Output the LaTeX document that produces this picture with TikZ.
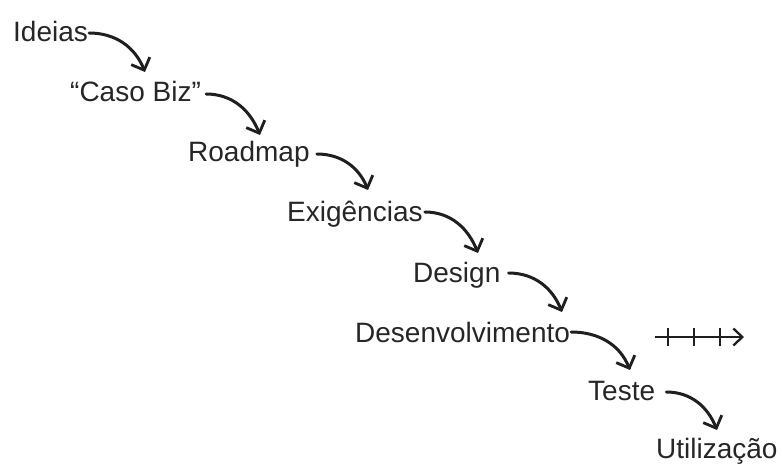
\documentclass[tikz,border=0pt]{standalone}
\usepackage{fontspec}
\setmainfont{Liberation Sans}
\usetikzlibrary{arrows.meta}
\begin{document}
\begin{tikzpicture}[x=1pt,y=1pt,
 lbl/.style={anchor=base west, inner sep=0pt, font=\fontsize{28}{30}\selectfont, text=black!85},
 flow/.style={line width=3pt, draw=black!88, line cap=round,
   -{Straight Barb[length=10pt,width=20pt,line width=2.8pt]}},
 tick/.style={line width=2.3pt, draw=black!88},
]
\useasboundingbox (0,0) rectangle (783,464);
\node[lbl] (n1) at (13,422) {Ideias};
\node[lbl] (n2) at (70,362) {“Caso Biz”};
\node[lbl] (n3) at (188,302) {Roadmap};
\node[lbl] (n4) at (287,243) {Exigências};
\node[lbl] (n5) at (413,182) {Design};
\node[lbl] (n6) at (355,122) {Desenvolvimento};
\node[lbl] (n7) at (588,64) {Teste};
\node[lbl] (n8) at (656,6) {Utilização};

\draw[flow] ([shift={(1,9)}]n1.base east) to[out=0,in=112] ([shift={(75,30)}]n2.base west);
\draw[flow] ([shift={(5,8)}]n2.base east) to[out=0,in=112] ([shift={(72,27)}]n3.base west);
\draw[flow] ([shift={(7,8)}]n3.base east) to[out=0,in=112] ([shift={(81,31)}]n4.base west);
\draw[flow] ([shift={(2,9)}]n4.base east) to[out=0,in=112] ([shift={(65,29)}]n5.base west);
\draw[flow] ([shift={(8,9)}]n5.base east) to[out=0,in=112] ([shift={(207,30)}]n6.base west);
\draw[flow] ([shift={(1,10)}]n6.base east) to[out=0,in=112] ([shift={(42,30)}]n7.base west);
\draw[flow] ([shift={(11,8)}]n7.base east) to[out=0,in=112] ([shift={(61,28)}]n8.base west);

\coordinate (r0) at (655,127);
\coordinate (r1) at (744,127);
\draw[tick, -{Straight Barb[length=9pt,width=17pt]}] (r0) -- (r1);
\foreach \x in {668,694,720} \draw[tick] (\x,118) -- (\x,136);
\end{tikzpicture}
\end{document}
